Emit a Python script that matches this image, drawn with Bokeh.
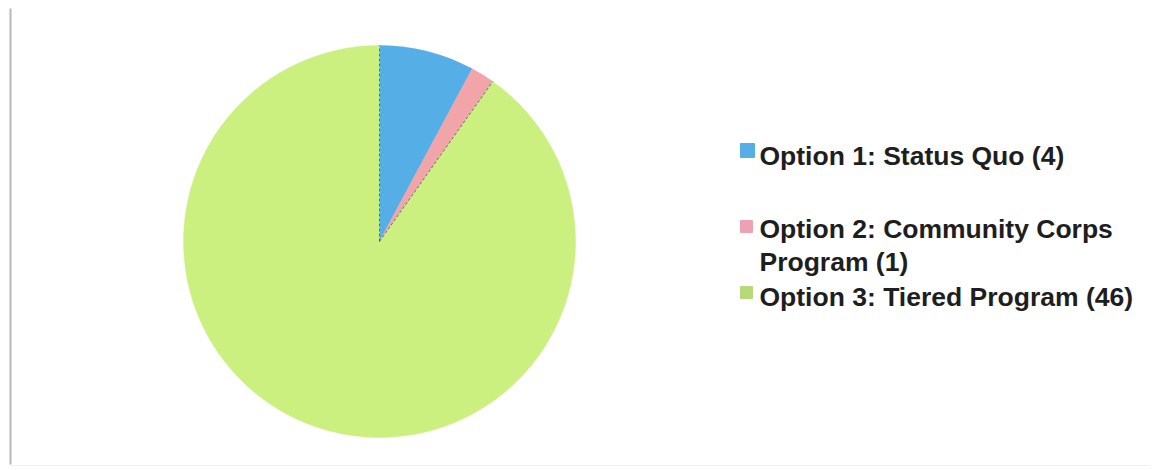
import numpy as np
from bokeh.plotting import figure
from bokeh.models import Range1d, ColumnDataSource
from bokeh.core.properties import value
from bokeh.embed import file_html
from bokeh.resources import INLINE

# data
labels = ["Option 1: Status Quo (4)", "Option 2: Community Corps\nProgram (1)", "Option 3: Tiered Program (46)"]
counts = [4, 1, 46]
colors = ["#55AEE6", "#F2A5A8", "#CBF080"]

W, H = 1154, 470
p = figure(width=W, height=H, x_range=Range1d(0, W), y_range=Range1d(0, H),
           output_backend="svg", toolbar_location=None, min_border=0,
           background_fill_color="white", border_fill_color="white")
p.axis.visible = False
p.grid.visible = False
p.outline_line_color = None

# frame lines
p.segment(x0=[10], y0=[H - 8], x1=[10], y1=[6], line_color="#B8B8B8", line_width=2)
p.segment(x0=[10], y0=[5], x1=[1150], y1=[5], line_color="#F2F2F2", line_width=1)

vals = np.array(counts, dtype=float)
frac = vals / vals.sum()
ends = np.cumsum(frac) * 2 * np.pi
starts = ends - frac * 2 * np.pi
src = ColumnDataSource(dict(start=np.pi / 2 - starts, end=np.pi / 2 - ends, color=colors))
cx, cy, r = 379, H - 241, 196
p.wedge(x=cx, y=cy, radius=r, start_angle="start", end_angle="end", direction="clock",
        fill_color="color", line_color="color", line_width=0.5, source=src)
# thin dark edge lines like the scan
p.segment(x0=[cx, cx], y0=[cy, cy],
          x1=[cx + r * np.cos(src.data["start"][0]), cx + r * np.cos(src.data["end"][1])],
          y1=[cy + r * np.sin(src.data["start"][0]), cy + r * np.sin(src.data["end"][1])],
          line_color="#3A3A6A", line_width=1, line_dash="3 2", line_alpha=0.7)

# legend
ly = [H - 155, H - 228, H - 296]
p.scatter(x=[747, 746, 746], y=[H - 150, H - 226, H - 292], marker="square", size=[14, 12, 12],
          color=[colors[0], "#EFA0B5", "#B9D978"])
for lab, y in zip(labels, ly):
    lines = lab.split("\n")
    for i, t in enumerate(lines):
        p.text(x=[759], y=[y - 33 * i], text=[t],
               text_font=value("Liberation Sans"), text_font_style="bold",
               text_font_size="26.5px", text_color="#1E1E1E", text_baseline="middle")

open("out.html", "w").write(file_html(p, INLINE))
